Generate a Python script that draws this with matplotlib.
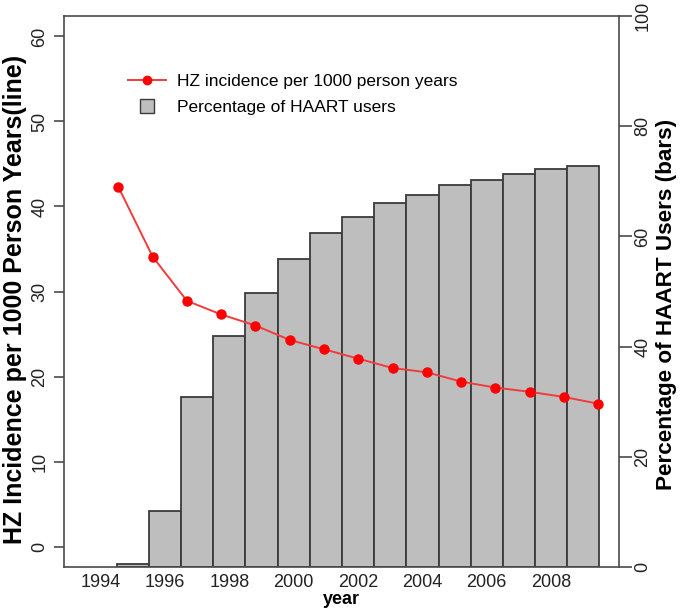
import matplotlib
matplotlib.use("Agg")
import matplotlib.pyplot as plt
from matplotlib.lines import Line2D

plt.rcParams['font.family'] = ['Liberation Sans', 'DejaVu Sans']

# data
years = [1995, 1996, 1997, 1998, 1999, 2000, 2001, 2002, 2003, 2004,
         2005, 2006, 2007, 2008, 2009]
haart_pct = [0.5, 10.1, 30.9, 41.9, 49.8, 55.9, 60.6, 63.6, 66.0, 67.6,
             69.4, 70.2, 71.4, 72.2, 72.8]
hz_rate = [42.3, 34.1, 28.9, 27.3, 26.0, 24.3, 23.2, 22.1, 21.0, 20.5,
           19.4, 18.7, 18.2, 17.6, 16.8]
year_ticks = [1994, 1996, 1998, 2000, 2002, 2004, 2006, 2008]
pct_ticks = [0, 20, 40, 60, 80, 100]
rate_ticks = [0, 10, 20, 30, 40, 50, 60]

box_col = '#4a4a4a'
txt_col = '#222222'
pos = [64 / 685, 47 / 614, 555 / 685, 551 / 614]

fig = plt.figure(figsize=(6.85, 6.14), dpi=100)

#BARS WITH RIGHT AXIS
ax_bar = fig.add_axes(pos)
ax_bar.bar(years, haart_pct, width=1.0, color='#bebebe',
           edgecolor='#3a3a3a', linewidth=1.3, zorder=2)
ax_bar.set_xlim(1992.86, 2010.11)
ax_bar.set_ylim(0, 100)
ax_bar.yaxis.tick_right()
ax_bar.yaxis.set_label_position('right')
ax_bar.set_yticks(pct_ticks)
ax_bar.tick_params(axis='y', length=9.4, width=1.2, color=box_col, pad=1.5,
                   labelsize=13, labelrotation=90, labelcolor=txt_col)
for t in ax_bar.get_yticklabels():
    t.set_va('center')
ax_bar.set_xticks(year_ticks)
ax_bar.set_xticklabels([str(y) for y in year_ticks])
ax_bar.tick_params(axis='x', length=0, pad=5, labelsize=13, labelcolor=txt_col)
ax_bar.set_xlabel('year', fontsize=13, fontweight='bold', labelpad=0)
ax_bar.set_ylabel('Percentage of HAART Users (bars)', fontsize=16.2,
                  fontweight='bold')
ax_bar.yaxis.set_label_coords((656 - 64) / 555, 0.477)
for s in ax_bar.spines.values():
    s.set_color(box_col)
    s.set_linewidth(1.2)

#LINE WITH LEFT AXIS
ax_line = fig.add_axes(pos, frameon=False)
ax_line.patch.set_alpha(0)
ax_line.plot(years, hz_rate, color='#f03c3c', linewidth=1.4, marker='o',
             markersize=6.5, markerfacecolor='#ff0000', markeredgecolor='#ff0000',
             zorder=3)
ax_line.set_xlim(1993.415, 2009.604)
ax_line.set_ylim(-2.4, 62.4)
ax_line.set_xticks([])
ax_line.set_yticks(rate_ticks)
ax_line.tick_params(axis='y', length=7.2, width=1.2, color=box_col, pad=4,
                    labelsize=13, labelrotation=90, labelcolor=txt_col)
for t in ax_line.get_yticklabels():
    t.set_va('center')
ax_line.set_ylabel('HZ Incidence per 1000 Person Years(line)', fontsize=18,
                   fontweight='bold')
ax_line.yaxis.set_label_coords((27 - 64) / 555, 0.485)

handles = [
    Line2D([], [], color='#f03c3c', linewidth=1.4, marker='o', markersize=6,
           markerfacecolor='#ff0000', markeredgecolor='#ff0000'),
    Line2D([], [], linestyle='none', marker='s', markersize=10,
           markerfacecolor='#bebebe', markeredgecolor='#3a3a3a'),
]
ax_line.legend(handles, ['HZ incidence per 1000 person years',
                         'Percentage of HAART users'],
               loc='upper left', bbox_to_anchor=(128 / 685, 1 - 74 / 614),
               bbox_transform=fig.transFigure, frameon=False, fontsize=12.5,
               handlelength=2.2, handletextpad=0.6, labelspacing=0.6,
               borderaxespad=0, borderpad=0)

fig.savefig('out.png', dpi=100)
